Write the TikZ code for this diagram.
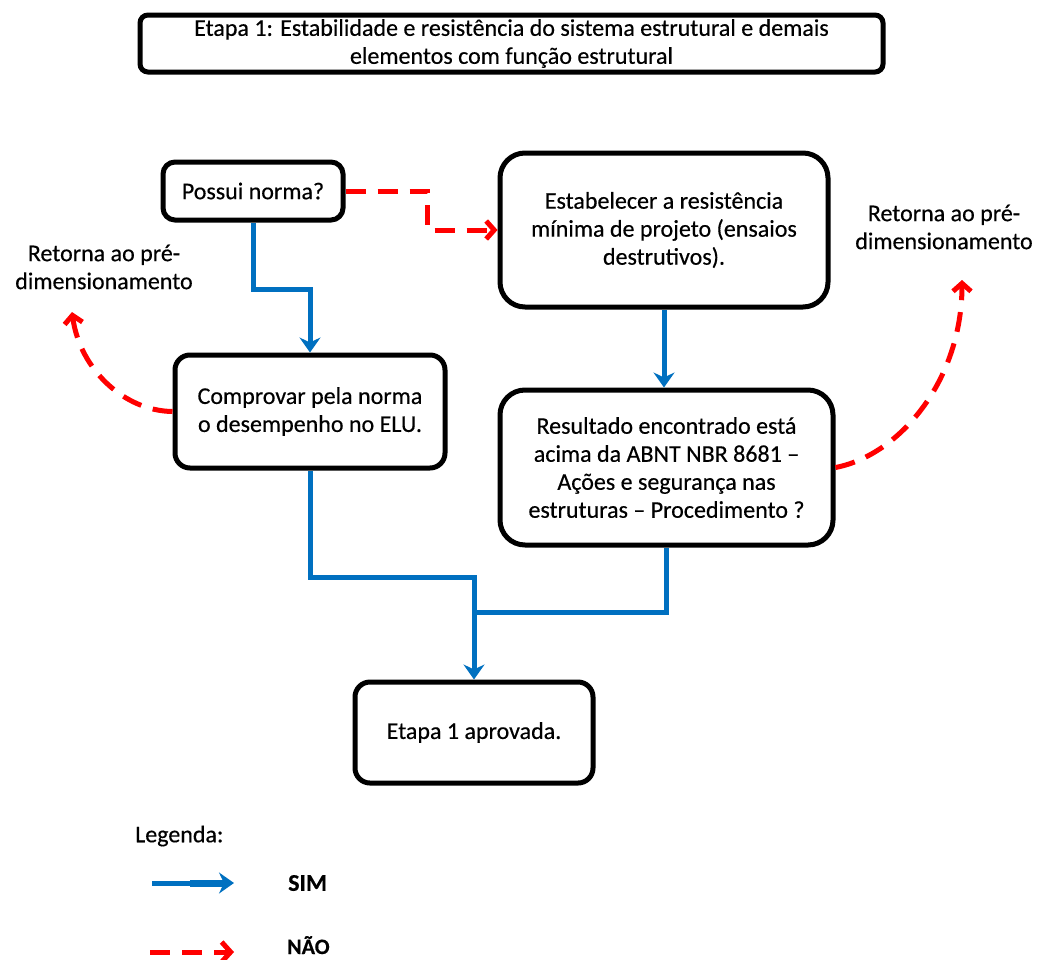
\documentclass[tikz,border=0pt]{standalone}
\usepackage{fontspec}
\setmainfont[FakeBold=0.4]{Carlito}
\usetikzlibrary{arrows.meta}
\definecolor{simblue}{RGB}{0,112,192}
\definecolor{naored}{RGB}{255,0,0}
\begin{document}
\begin{tikzpicture}[x=1pt,y=-1pt,
  txt/.style={font=\fontsize{24}{28}\selectfont},
  box/.style={draw=black, line width=5pt, fill=white, align=center,
    inner sep=0pt, txt},
  simline/.style={draw=simblue, line width=5pt},
  sim/.style={simline, -{Stealth[length=15pt,width=21pt,inset=5pt]}},
  nao/.style={draw=naored, line width=5pt, dash pattern=on 20pt off 12pt,
    -{Straight Barb[length=8pt,width=18pt]}},
  lbl/.style={align=center, inner sep=0pt, txt}]
\useasboundingbox (0,0) rectangle (1040,959);

% boxes
\node[box, rounded corners=8pt, minimum width=743pt, minimum height=57pt]
  (titulo) at (511.5,43.5)
  {Etapa 1: Estabilidade e resistência do sistema estrutural e demais\\elementos com função estrutural};
\node[box, rounded corners=12pt, minimum width=180pt, minimum height=58pt]
  (possui) at (253,191) {Possui norma?};
\node[box, rounded corners=25pt, minimum width=328pt, minimum height=154pt]
  (estabelecer) at (664,230) {Estabelecer a resistência\\mínima de projeto (ensaios\\destrutivos).};
\node[box, rounded corners=15pt, minimum width=270pt, minimum height=113pt]
  (comprovar) at (310,411.5) {Comprovar pela norma\\o desempenho no ELU.};
\node[box, rounded corners=25pt, minimum width=333pt, minimum height=155pt]
  (resultado) at (666.5,467.5) {Resultado encontrado está\\acima da ABNT NBR 8681 --\\Ações e segurança nas\\estruturas -- Procedimento ?};
\node[box, rounded corners=15pt, minimum width=238pt, minimum height=101pt]
  (aprovada) at (474,732.5) {Etapa 1 aprovada.};

% side labels
\node[lbl] (retornaE) at (104,267) {Retorna ao pré-\\dimensionamento};
\node[lbl] (retornaD) at (944,227) {Retorna ao pré-\\dimensionamento};

% SIM connectors
\draw[sim] (estabelecer.south) -- (estabelecer.south |- resultado.north);
\draw[sim] (possui.south) -- ++(0,67) -| (comprovar.north);
\coordinate (juncao) at (aprovada.north |- 0,612);
\draw[simline] (resultado.south) |- (juncao);
\draw[sim] (comprovar.south) -- ++(0,107) -| (aprovada.north);

% NAO connectors
\draw[nao] (possui.east) -- ++(82,0) |- (estabelecer.west);
\coordinate (voltaE) at (72,312);
\draw[nao] (comprovar.west) .. controls (125,411) and (80,370) .. (voltaE);
\coordinate (voltaD) at (962,280);
\draw[nao] (resultado.east) .. controls (900,455) and (962,380) .. (voltaD);

% legend
\node[anchor=west, inner sep=0pt, txt] (legenda) at (135,836) {Legenda:};
\coordinate (simA) at (152,883);
\coordinate (simM) at (190,883);
\coordinate (simB) at (234,883);
\draw[simline] (simA) -- (simM);
\draw[sim, line width=7pt] (simM) -- (simB);
\node[anchor=west, inner sep=0pt, font=\fontsize{24}{28}\bfseries] (simtxt) at (288,883) {SIM};
\coordinate (naoA) at (150,952);
\coordinate (naoB) at (234,952);
\draw[nao, -{Straight Barb[length=9pt,width=20pt]}] (naoA) -- (naoB);
\node[anchor=base west, inner sep=0pt, font=\fontsize{22}{26}\bfseries] (naotxt) at (287,954) {NÃO};
\end{tikzpicture}
\end{document}
